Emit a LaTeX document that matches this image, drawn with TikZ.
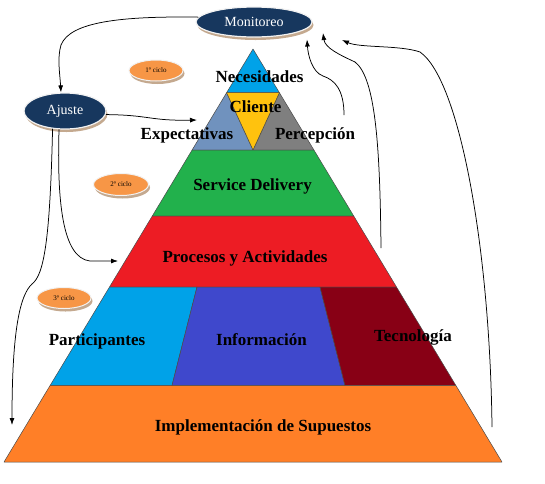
\documentclass[tikz,border=0pt]{standalone}
\usepackage{fontspec}
\setmainfont{Liberation Serif}
\usetikzlibrary{shapes.geometric,arrows.meta,shadows}
\definecolor{cNec}{HTML}{00A2E8}
\definecolor{cCli}{HTML}{FFC20E}
\definecolor{cExp}{HTML}{7092BE}
\definecolor{cPer}{HTML}{7F7F7F}
\definecolor{cSer}{HTML}{22B14C}
\definecolor{cPro}{HTML}{ED1C24}
\definecolor{cPar}{HTML}{00A2E8}
\definecolor{cInf}{HTML}{3F48CC}
\definecolor{cTec}{HTML}{880015}
\definecolor{cImp}{HTML}{FF7F27}
\definecolor{cNavy}{HTML}{17375E}
\definecolor{cOra}{HTML}{F79646}
\definecolor{cTan}{HTML}{C4A98F}
\definecolor{cEdge}{HTML}{4A4A4A}
\tikzset{
  band/.style={draw=cEdge, line width=0.5pt, line join=round},
  lbl/.style={anchor=base, font=\fontsize{17}{20}\selectfont\bfseries, inner sep=0pt},
  navyell/.style={ellipse, fill=cNavy, draw=gray!10, line width=1.2pt, text=white,
     font=\fontsize{14}{16}\selectfont, inner sep=0pt,
     drop shadow={shadow xshift=1.5pt, shadow yshift=-3pt, fill=cTan, opacity=1}},
  cycell/.style={ellipse, fill=cOra, draw=gray!10, line width=1pt, text=black,
     font=\fontsize{7}{8}\selectfont, inner sep=0pt,
     minimum width=54pt, minimum height=21pt,
     drop shadow={shadow xshift=1.5pt, shadow yshift=-3pt, fill=cTan, opacity=1}},
  conn/.style={draw=black, line width=0.75pt, -{Latex[length=7pt,width=5pt]}}
}
\begin{document}
\begin{tikzpicture}[x=1pt,y=-1pt]
\useasboundingbox (0,0) rectangle (545,483);
% pyramid coordinates
\coordinate (apex) at (253,49);
\coordinate (n1) at (226.6,92.7);
\coordinate (n2) at (279.4,92.7);
\coordinate (e1) at (192.1,150);
\coordinate (c0) at (253,150);
\coordinate (p1) at (313.9,150);
\coordinate (g1) at (152.3,216);
\coordinate (g2) at (353.7,216);
\coordinate (r1) at (109.5,287);
\coordinate (r2) at (396.5,287);
\coordinate (t1) at (50.1,385.5);
\coordinate (t2) at (455.9,385.5);
\coordinate (b1) at (4,462);
\coordinate (b2) at (502,462);
\coordinate (d1t) at (197,287);
\coordinate (d1b) at (172,385.5);
\coordinate (d2t) at (320,287);
\coordinate (d2b) at (345,385.5);
% bands
\path[band, fill=cNec] (apex) -- (n1) -- (n2) -- cycle;
\path[band, fill=cExp] (n1) -- (c0) -- (e1) -- cycle;
\path[band, fill=cPer] (n2) -- (p1) -- (c0) -- cycle;
\path[band, fill=cCli] (n1) -- (n2) -- (c0) -- cycle;
\path[band, fill=cSer] (e1) -- (p1) -- (g2) -- (g1) -- cycle;
\path[band, fill=cPro] (g1) -- (g2) -- (r2) -- (r1) -- cycle;
\path[band, fill=cPar] (r1) -- (d1t) -- (d1b) -- (t1) -- cycle;
\path[band, fill=cInf] (d1t) -- (d2t) -- (d2b) -- (d1b) -- cycle;
\path[band, fill=cTec] (d2t) -- (r2) -- (t2) -- (d2b) -- cycle;
\path[band, fill=cImp] (t1) -- (t2) -- (b2) -- (b1) -- cycle;
% labels
\node[lbl] (lNec) at (259.5,82.5) {Necesidades};
\node[lbl] (lCli) at (255.5,112.3) {Cliente};
\node[lbl] (lExp) at (187,139.3) {Expectativas};
\node[lbl] (lPer) at (315,139.3) {Percepción};
\node[lbl] (lSer) at (252.5,190) {Service Delivery};
\node[lbl] (lPro) at (245,262.7) {Procesos y Actividades};
\node[lbl] (lPar) at (97,345) {Participantes};
\node[lbl] (lInf) at (261.5,345) {Información};
\node[lbl] (lTec) at (413,341) {Tecnología};
\node[lbl] (lImp) at (263,431.7) {Implementación de Supuestos};
% ellipses
\node[navyell, minimum width=116pt, minimum height=30pt] (mon) at (254,22) {Monitoreo};
\node[navyell, minimum width=82pt, minimum height=36pt] (aju) at (65,111) {Ajuste};
\node[cycell] (cy1) at (156,70.5) {1º ciclo};
\node[cycell, minimum width=55pt, minimum height=22pt] (cy2) at (121,184.5) {2º ciclo};
\node[cycell] (cy3) at (64,298) {3º ciclo};
% free ends
\coordinate (expIn) at (197,120);
\coordinate (proIn) at (118,261);
\coordinate (leftEnd) at (12,425);
\coordinate (s1) at (344,115);
\coordinate (s2) at (381,248);
\coordinate (s3) at (492,427);
\coordinate (m1) at (307,39.5);
\coordinate (m2) at (323,33);
\coordinate (m3) at (342,40);
% connectors
\draw[conn] (mon.175) .. controls (120,16) and (70,22) .. (61,45)
   .. controls (57,58) and (60,75) .. ([xshift=-4pt]aju.north);
\draw[conn] (aju.-5) .. controls (150,115) and (150,121) .. (expIn);
\draw[conn] (aju.-108) .. controls (57,200) and (62,258) .. (90,261) -- (proIn);
\draw[conn] (aju.-125) .. controls (50,240) and (44,275) .. (32,284)
   .. controls (20,295) and (12,330) .. (leftEnd);
\draw[conn] (s1) .. controls (344,90) and (335,80) .. (323,76)
   .. controls (312,72) and (308,55) .. (m1);
\draw[conn] (s2) .. controls (380,150) and (376,78) .. (355,62)
   .. controls (340,55) and (325,48) .. (m2);
\draw[conn] (s3) .. controls (490,250) and (460,80) .. (420,52)
   .. controls (400,45) and (360,48) .. (m3);
\end{tikzpicture}
\end{document}
